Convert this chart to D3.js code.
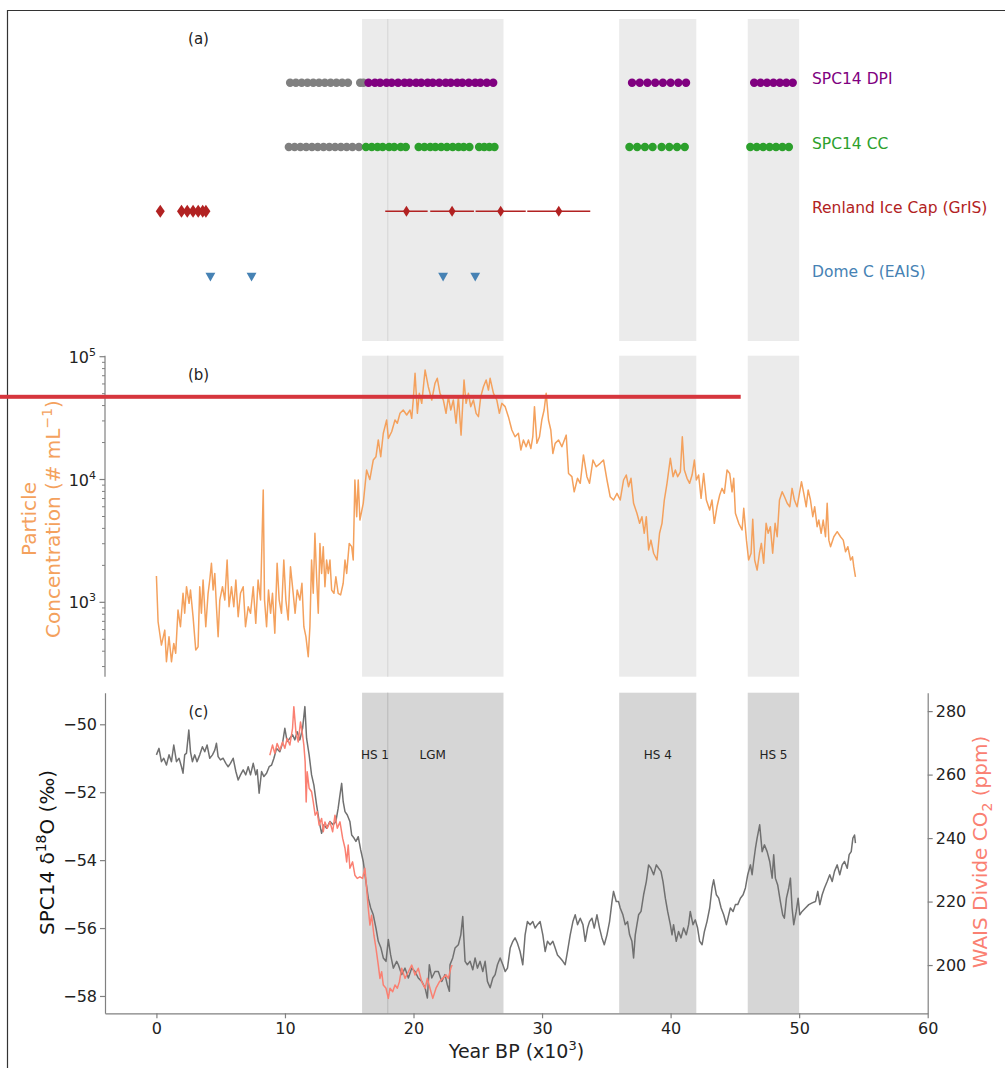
<!DOCTYPE html>
<html><head><meta charset="utf-8">
<script src="https://cdn.jsdelivr.net/npm/d3@7"></script>
<style>body{margin:0;background:#fff;} svg{display:block;font-family:"DejaVu Sans",sans-serif;}</style>
</head><body><svg id="chart" width="1005" height="1068"></svg>
<script>
// ---------------- DATA ----------------
const rowNames = ["SPC14 DPI", "SPC14 CC", "Renland Ice Cap (GrIS)", "Dome C (EAIS)"];
const rowColors = ["#800080", "#2ca02c", "#b22222", "#4682b4"];

const dpiGrayAges = [10.4,10.85,11.3,11.75,12.2,12.65,13.1,13.55,14.0,14.45,14.9,15.85,16.1];
const dpiAges = [16.5,17.0,17.4,17.9,18.3,18.8,19.3,19.7,20.2,20.6,21.1,21.5,22.0,22.5,22.9,23.4,23.8,24.3,24.8,25.2,25.7,26.2,
                 37.0,37.6,38.2,38.8,39.4,40.0,40.6,41.2,
                 46.5,47.0,47.5,48.0,48.5,49.0,49.5];
const ccGrayAges = [10.3,10.75,11.2,11.65,12.1,12.55,13.0,13.45,13.9,14.35,14.8,15.25,15.75];
const ccAges = [16.3,16.75,17.2,17.6,18.1,18.5,19.0,19.4,
                20.4,20.85,21.3,21.7,22.15,22.6,23.05,23.5,23.9,24.35,
                25.1,25.5,25.9,26.3,
                36.8,37.4,38.0,38.6,39.3,39.9,40.5,41.1,
                46.2,46.7,47.2,47.7,48.2,48.7,49.2];
const renlandAges = [0.3,1.95,2.4,2.85,3.25,3.6,3.85];
const renlandErrAges = [19.45,23.0,26.78,31.3];
const renlandErr = [1.65,1.7,1.95,2.45];
const domeCAges = [4.2,7.4,22.3,24.8];

const bandStart = [16,36,46];
const bandEnd = [27,42,50];
const hs1Boundary = 18;
const bandLabels = ["HS 1","LGM","HS 4","HS 5"];
const bandLabelAges = [17,21.5,39,48];

const particleAge = [0.0,0.13,0.39,0.65,0.78,0.98,1.17,1.35,1.5,1.68,1.87,2.07,2.2,2.34,2.54,2.65,2.85,3.06,3.24,3.37,3.5,3.63,3.84,4.02,4.15,4.28,4.41,4.54,4.67,4.8,4.93,5.14,5.32,5.5,5.65,5.84,6.02,6.18,6.36,6.54,6.75,6.93,7.14,7.32,7.53,7.73,7.91,8.1,8.31,8.41,8.57,8.72,8.88,9.03,9.21,9.39,9.55,9.73,9.91,10.07,10.25,10.43,10.64,10.79,10.95,11.16,11.32,11.47,11.63,11.81,11.94,12.07,12.2,12.33,12.46,12.59,12.72,12.85,12.98,13.11,13.24,13.37,13.5,13.63,13.81,13.96,14.14,14.33,14.53,14.67,14.8,15.0,15.19,15.31,15.44,15.58,15.7,15.83,16.09,16.35,16.6,16.87,17.08,17.26,17.45,17.65,17.91,18.04,18.3,18.56,18.74,18.95,19.2,19.47,19.73,19.86,19.98,20.12,20.3,20.45,20.64,20.9,21.15,21.42,21.67,21.85,22.06,22.32,22.53,22.71,22.9,23.1,23.31,23.49,23.7,23.93,24.09,24.27,24.45,24.66,24.87,25.05,25.23,25.44,25.65,25.83,25.96,26.22,26.48,26.68,26.87,27.13,27.38,27.65,27.9,28.16,28.35,28.55,28.76,28.94,29.13,29.28,29.41,29.6,29.8,29.98,30.16,30.32,30.5,30.68,30.84,31.02,31.28,31.54,31.88,32.06,32.32,32.5,32.76,32.97,33.22,33.49,33.69,33.96,34.21,34.52,34.78,35.05,35.3,35.56,35.83,36.08,36.34,36.55,36.73,36.92,37.12,37.38,37.59,37.77,37.95,38.11,38.29,38.47,38.68,38.94,39.14,39.33,39.51,39.72,39.98,40.19,40.37,40.55,40.76,40.91,41.07,41.28,41.48,41.67,41.85,42.0,42.18,42.37,42.57,42.78,43.04,43.22,43.4,43.61,43.82,44.0,44.18,44.39,44.6,44.78,44.91,45.04,45.3,45.56,45.69,45.9,46.07,46.26,46.39,46.54,46.73,46.91,47.06,47.24,47.43,47.59,47.76,47.94,48.13,48.29,48.47,48.68,48.86,49.07,49.27,49.45,49.63,49.84,50.02,50.18,50.36,50.55,50.7,50.88,51.06,51.21,51.4,51.53,51.71,51.87,52.05,52.18,52.31,52.44,52.7,52.96,53.22,53.43,53.61,53.79,54.0,54.15,54.25,54.38];
const particleConc = [1640,695,449,594,328,525,328,463,385,865,633,1184,814,1340,982,1260,764,409,434,1340,814,1520,633,1184,1520,2080,1260,1720,920,525,1044,1340,1044,2210,920,1340,920,1520,764,1184,1340,633,920,814,1340,674,1520,1044,8220,1044,633,1260,814,1184,560,2080,1044,814,2210,1044,718,1950,1184,814,1260,1044,1430,633,525,361,633,2210,1184,3650,1615,814,3020,1720,2840,1340,2210,1720,2210,1260,1184,1615,1184,1150,1430,2210,1720,3020,2840,2210,9910,4980,9910,4680,6400,11940,10000,14420,15350,21000,15350,23800,30500,21600,24500,30500,28700,34600,36800,33500,36800,31500,44400,73300,34600,50300,41700,78000,57000,44400,60700,66700,50300,44400,34600,47200,36800,44400,28700,47200,23000,64600,41700,50300,39200,44400,34600,32500,47200,57000,64600,53500,66700,50300,44400,34600,41700,39200,32500,25300,22300,23800,17400,21000,18500,21000,17900,22300,39200,19700,22300,30500,36800,50300,30500,25300,16300,19700,21000,18500,23000,11200,10550,7940,10230,9310,15850,10550,9310,14420,12700,13550,14420,9910,7240,6810,7720,6810,9910,10880,8730,10230,6400,5310,4400,4980,3650,4980,2670,3210,2510,2210,3650,4400,6810,9310,14900,10550,11940,10550,11560,22300,11940,10230,9310,10880,14420,9910,10880,7030,11200,6810,5650,6810,4400,6000,7480,8470,7720,11940,11200,7940,10230,5310,4400,3880,5830,3210,2210,2510,4740,2210,1830,2510,3020,2080,4400,3650,4130,2510,4400,3420,6810,7940,7240,6400,6000,8470,6810,6000,7720,9590,7720,6000,8220,6810,4980,6000,4130,4680,3650,4680,3420,6400,3210,2840,3420,3760,3420,3210,2580,2840,2210,2350,1950,1615];

const d18OAge = [0.0,0.2,0.39,0.57,0.78,0.98,1.17,1.35,1.56,1.76,1.95,2.07,2.2,2.34,2.52,2.65,2.8,2.98,3.16,3.37,3.58,3.76,3.94,4.15,4.36,4.54,4.67,4.8,4.98,5.19,5.4,5.58,5.76,5.97,6.18,6.36,6.54,6.75,6.95,7.14,7.32,7.53,7.73,7.84,7.99,8.18,8.36,8.57,8.77,8.96,9.14,9.35,9.6,9.81,9.99,10.17,10.38,10.59,10.77,10.95,11.16,11.37,11.55,11.68,11.88,12.07,12.25,12.46,12.66,12.85,13.03,13.24,13.5,13.75,13.96,14.14,14.28,14.41,14.53,14.67,14.85,15.05,15.19,15.37,15.52,15.7,15.89,16.09,16.3,16.48,16.67,16.87,17.08,17.26,17.47,17.65,17.86,18.04,18.22,18.43,18.69,18.82,19.08,19.34,19.6,19.86,20.12,20.37,20.64,20.9,21.08,21.23,21.42,21.67,21.93,22.2,22.45,22.63,22.79,22.84,23.05,23.23,23.49,23.68,23.83,24.01,24.19,24.4,24.61,24.79,24.97,25.18,25.39,25.57,25.75,25.96,26.17,26.35,26.53,26.74,26.95,27.13,27.31,27.52,27.73,27.9,28.08,28.29,28.5,28.68,28.86,29.07,29.28,29.46,29.64,29.85,30.06,30.24,30.42,30.63,30.84,31.02,31.2,31.41,31.62,31.8,31.98,32.19,32.4,32.58,32.76,32.97,33.18,33.36,33.54,33.69,33.88,34.06,34.27,34.47,34.66,34.84,35.05,35.25,35.44,35.56,35.77,35.95,36.08,36.29,36.47,36.65,36.81,36.99,37.12,37.25,37.38,37.51,37.7,37.9,38.11,38.29,38.47,38.68,38.89,39.07,39.25,39.41,39.59,39.77,39.98,40.11,40.23,40.44,40.62,40.81,41.01,41.22,41.4,41.53,41.74,41.92,42.1,42.26,42.45,42.63,42.83,43.04,43.22,43.35,43.56,43.74,43.93,44.13,44.34,44.52,44.65,44.86,45.04,45.22,45.43,45.64,45.82,46.0,46.21,46.34,46.46,46.6,46.73,46.93,47.12,47.3,47.51,47.71,47.9,48.02,48.15,48.33,48.54,48.72,48.85,49.01,49.19,49.32,49.45,49.58,49.77,49.92,50.05,50.23,50.49,50.75,51.01,51.27,51.45,51.61,51.79,51.97,52.18,52.38,52.57,52.75,52.96,53.16,53.35,53.53,53.74,53.89,54.05,54.18,54.31,54.38];
const d18OVal = [-50.90,-50.71,-51.1,-51.0,-51.2,-50.9,-51.1,-50.61,-51.1,-51.0,-51.25,-51.44,-50.9,-50.85,-50.17,-50.81,-51.1,-50.9,-51.1,-50.9,-50.66,-50.81,-50.61,-51.0,-50.9,-50.76,-50.56,-50.95,-51.05,-51.0,-51.15,-51.25,-51.15,-51.0,-51.39,-51.64,-51.49,-51.34,-51.49,-51.25,-51.49,-51.15,-51.49,-51.34,-52.03,-51.39,-51.54,-51.44,-51.25,-51.2,-51.0,-50.71,-50.81,-50.56,-50.12,-50.51,-50.41,-50.31,-50.46,-50.22,-50.46,-50.12,-49.48,-50.41,-50.9,-51.49,-51.79,-52.37,-52.86,-53.21,-52.96,-53.06,-52.86,-52.96,-52.86,-52.47,-52.08,-51.74,-52.28,-52.57,-52.67,-52.86,-53.26,-53.35,-53.45,-53.31,-53.70,-54.04,-54.63,-55.12,-55.41,-55.61,-56.0,-56.39,-56.59,-56.88,-56.98,-56.34,-56.79,-57.18,-56.98,-57.08,-57.37,-57.18,-57.47,-57.18,-57.28,-57.47,-57.57,-57.76,-58.06,-57.08,-57.47,-57.28,-57.28,-57.57,-57.37,-57.67,-57.86,-57.08,-56.88,-56.59,-56.49,-56.2,-55.66,-56.98,-57.08,-56.98,-57.23,-56.88,-57.18,-56.98,-57.28,-56.98,-57.57,-57.76,-57.47,-57.37,-57.08,-56.88,-57.08,-57.28,-57.18,-56.59,-56.39,-56.29,-56.44,-56.69,-57.08,-56.2,-55.81,-55.9,-55.81,-56.0,-55.9,-55.81,-56.2,-56.69,-56.39,-56.49,-56.39,-56.59,-56.79,-56.88,-56.98,-57.08,-56.69,-56.2,-55.81,-55.61,-55.9,-55.71,-55.9,-56.39,-56.0,-55.81,-55.71,-56.0,-55.61,-56.0,-56.29,-56.49,-56.2,-55.81,-55.22,-54.92,-55.22,-55.22,-55.41,-55.61,-55.9,-55.81,-56.2,-56.39,-56.88,-56.2,-55.9,-55.61,-55.51,-55.02,-54.63,-54.14,-54.24,-54.43,-54.14,-54.24,-54.33,-54.63,-55.12,-55.51,-55.9,-56.2,-55.9,-56.39,-56.1,-56.29,-56.0,-56.2,-55.9,-55.51,-55.9,-55.76,-56.0,-56.39,-56.49,-56.1,-55.81,-55.41,-54.82,-54.58,-55.02,-55.12,-55.41,-55.61,-55.9,-55.61,-55.41,-55.51,-55.31,-55.31,-55.12,-55.02,-54.82,-54.43,-54.14,-54.43,-54.04,-53.65,-53.35,-52.96,-53.75,-53.55,-53.75,-54.04,-54.53,-53.84,-54.53,-54.73,-55.22,-55.61,-55.71,-55.12,-54.82,-54.53,-55.41,-55.9,-55.51,-55.12,-55.61,-55.51,-55.41,-55.31,-55.26,-55.22,-54.92,-55.31,-55.02,-54.82,-54.63,-54.43,-54.63,-54.33,-54.14,-54.43,-54.14,-54.04,-54.24,-53.84,-53.75,-53.35,-53.26,-53.5];

const co2Age = [8.82,9.03,9.21,9.39,9.6,9.81,9.99,10.17,10.38,10.59,10.69,10.85,11.03,11.21,11.37,11.47,11.57,11.65,11.73,11.88,12.07,12.2,12.35,12.51,12.66,12.85,12.98,13.11,13.29,13.5,13.71,13.89,14.07,14.28,14.49,14.67,14.8,14.92,15.05,15.26,15.44,15.62,15.83,16.04,16.22,16.35,16.48,16.61,16.74,16.92,17.08,17.26,17.39,17.52,17.65,17.86,18.04,18.17,18.38,18.56,18.74,18.9,19.08,19.34,19.6,19.86,20.12,20.37,20.64,20.9,21.08,21.28,21.5,21.75,22.01,22.27,22.53,22.71,22.9,23.0];
const co2Val = [266.1,269.3,266.7,269.8,267.7,270.3,268.3,271.4,269.3,274.6,281.4,273.5,270.3,276.6,272.4,269.3,264.0,251.4,260.9,255.7,254.6,251.4,247.2,248.3,244.1,246.2,242.0,245.1,243.1,245.1,242.0,247.2,243.1,245.1,239.9,236.8,232.5,237.8,230.5,232.5,228.3,227.3,227.8,227.3,230.5,224.2,217.9,212.6,215.7,209.4,205.3,200.0,195.8,197.9,193.7,192.7,189.5,192.7,191.6,193.7,192.7,194.7,199.0,195.8,197.9,200.0,196.9,199.0,194.7,192.7,195.8,192.7,189.5,192.7,194.7,195.8,196.9,195.8,199.0,200.0];

const xTicks = [0,10,20,30,40,50,60];
const d18OTicks = [-50,-52,-54,-56,-58];
const co2Ticks = [200,220,240,260,280];
const particleMajor = [1e3,1e4,1e5];
const particleMinor = [300,400,500,600,700,800,900,2e3,3e3,4e3,5e3,6e3,7e3,8e3,9e3,2e4,3e4,4e4,5e4,6e4,7e4,8e4,9e4];

// ---------------- DRAW ----------------
const svg = d3.select('#chart');
const x = d3.scaleLinear().domain([-4,60]).range([105,927.7]);
const panels = {a:[19,341], b:[355.7,676.7], c:[692.7,1013.3]};
const bands = bandStart.map((s,i)=>({s, e:bandEnd[i]}));
const spineCol = "#808080", txtCol = "#222";

// bands
function drawBands(p, fill, lineCol){
  const [t,b] = panels[p];
  const g = svg.append('g');
  g.selectAll('rect').data(bands).join('rect')
    .attr('x', d=>x(d.s)).attr('width', d=>x(d.e)-x(d.s))
    .attr('y', t).attr('height', b-t).attr('fill', fill);
  g.append('line').attr('x1', x(hs1Boundary)).attr('x2', x(hs1Boundary))
    .attr('y1', t).attr('y2', b).attr('stroke', lineCol).attr('stroke-width', 1);
}
drawBands('a', '#ebebeb', '#d4d4d4');
drawBands('b', '#ebebeb', '#d4d4d4');
drawBands('c', '#d6d6d6', '#b8b8b8');

// frame lines
svg.append('line').attr('x1',7).attr('x2',1005).attr('y1',10.5).attr('y2',10.5).attr('stroke','#333').attr('stroke-width',1.2);
svg.append('line').attr('x1',7.5).attr('x2',7.5).attr('y1',10).attr('y2',1068).attr('stroke','#333').attr('stroke-width',1.2);

// ---- panel (a)
const yA = d3.scalePoint().domain(rowNames).range([82.7,275.7]);
const ga = svg.append('g');
function dots(ages, row, color){
  ga.append('g').selectAll('circle').data(ages).join('circle')
    .attr('cx', d=>x(d)).attr('cy', yA(row)).attr('r', 4.2).attr('fill', color);
}
dots(dpiGrayAges, rowNames[0], '#808080');
dots(dpiAges, rowNames[0], rowColors[0]);
dots(ccGrayAges, rowNames[1], '#808080');
dots(ccAges, rowNames[1], rowColors[1]);
// renland
const renErr = renlandErrAges.map((a,i)=>({a, e:renlandErr[i]}));
ga.append('g').selectAll('line').data(renErr).join('line')
  .attr('x1', d=>x(d.a-d.e)).attr('x2', d=>x(d.a+d.e))
  .attr('y1', yA(rowNames[2])).attr('y2', yA(rowNames[2]))
  .attr('stroke', rowColors[2]).attr('stroke-width', 1.5);
ga.append('g').selectAll('path').data(renErr).join('path')
  .attr('d', 'M0,-5.5L3.5,0L0,5.5L-3.5,0Z')
  .attr('transform', d=>`translate(${x(d.a)},${yA(rowNames[2])})`).attr('fill', rowColors[2]);
ga.append('g').selectAll('path').data(renlandAges).join('path')
  .attr('d', 'M0,-6.5L4.5,0L0,6.5L-4.5,0Z')
  .attr('transform', d=>`translate(${x(d)},${yA(rowNames[2])})`).attr('fill', rowColors[2]);
// dome C
ga.append('g').selectAll('path').data(domeCAges).join('path')
  .attr('d', d3.symbol(d3.symbolTriangle, 42))
  .attr('transform', d=>`translate(${x(d)},${yA(rowNames[3])}) rotate(180)`).attr('fill', rowColors[3]);
// row labels
ga.append('g').selectAll('text').data(rowNames).join('text')
  .attr('x', 812).attr('y', d=>yA(d)+1.5).attr('font-size', 15.5)
  .attr('fill', (d,i)=>rowColors[i]).text(d=>d);

// panel letters
[['(a)',38.5],['(b)',374.5],['(c)',712]].forEach(([t,yy])=>{
  svg.append('text').attr('x',198.5).attr('y',yy).attr('dy','0.35em').attr('text-anchor','middle')
    .attr('font-size',15).attr('fill',txtCol).text(t);
});

// ---- panel (b)
const yB = d3.scaleLog().domain([248,101900]).range([676.7,355.7]);
const orange = '#f4a15d';
svg.append('path').datum(particleAge.map((a,i)=>[a,particleConc[i]]))
  .attr('d', d3.line().x(d=>x(d[0])).y(d=>yB(d[1])))
  .attr('fill','none').attr('stroke',orange).attr('stroke-width',1.5).attr('stroke-linejoin','round');
const gb = svg.append('g');
gb.append('line').attr('x1',105).attr('x2',105).attr('y1',355.7).attr('y2',676.7).attr('stroke',spineCol).attr('stroke-width',1.2);
gb.selectAll('line.mn').data(particleMinor).join('line').attr('class','mn')
  .attr('x1',105).attr('x2',102).attr('y1',d=>yB(d)).attr('y2',d=>yB(d)).attr('stroke',spineCol);
gb.selectAll('line.mj').data(particleMajor).join('line').attr('class','mj')
  .attr('x1',105).attr('x2',99.5).attr('y1',d=>yB(d)).attr('y2',d=>yB(d)).attr('stroke',spineCol).attr('stroke-width',1.2);
const lt = gb.selectAll('text.mj').data(particleMajor).join('text').attr('class','mj')
  .attr('x',96).attr('y',d=>yB(d)+6).attr('text-anchor','end').attr('font-size',16).attr('fill',txtCol);
lt.append('tspan').text('10');
lt.append('tspan').attr('dy',-7).attr('font-size',11).text(d=>Math.round(Math.log10(d)));
// y label (b)
const pl = svg.append('g').attr('fill','#f4a15d').attr('font-size',20).attr('text-anchor','middle');
pl.append('text').attr('transform','translate(36,519) rotate(-90)').text('Particle');
const pl2 = pl.append('text').attr('transform','translate(60,519) rotate(-90)');
pl2.append('tspan').text('Concentration (# mL');
pl2.append('tspan').attr('dy',-8).attr('font-size',14).text('\u22121');
pl2.append('tspan').attr('dy',8).text(')');

// ---- panel (c)
const yC = d3.scaleLinear().domain([-58.51,-49.07]).range([1013.3,692.7]);
const yCO2 = d3.scaleLinear().domain([184.8,285.8]).range([1013.3,692.7]);
const gcl = svg.append('g');
gcl.selectAll('text').data(bandLabels).join('text')
  .attr('x',(d,i)=>x(bandLabelAges[i])).attr('y',754.5).attr('dy','0.35em').attr('text-anchor','middle')
  .attr('font-size',12).attr('fill','#222').text(d=>d);
svg.append('path').datum(d18OAge.map((a,i)=>[a,d18OVal[i]]))
  .attr('d', d3.line().x(d=>x(d[0])).y(d=>yC(d[1])))
  .attr('fill','none').attr('stroke','#707070').attr('stroke-width',1.5).attr('stroke-linejoin','round');
svg.append('path').datum(co2Age.map((a,i)=>[a,co2Val[i]]))
  .attr('d', d3.line().x(d=>x(d[0])).y(d=>yCO2(d[1])))
  .attr('fill','none').attr('stroke','#fa8072').attr('stroke-width',1.5).attr('stroke-linejoin','round');

function styleAxis(g){
  g.selectAll('.domain').attr('stroke',spineCol).attr('stroke-width',1.2);
  g.selectAll('.tick line').attr('stroke',spineCol).attr('stroke-width',1.2);
  g.selectAll('.tick text').attr('font-size',16).attr('fill',txtCol).attr('font-family','DejaVu Sans, sans-serif');
}
svg.append('g').attr('transform','translate(105,0)')
  .call(d3.axisLeft(yC).tickValues(d18OTicks).tickSize(5).tickPadding(3).tickSizeOuter(0)).call(styleAxis);
svg.append('g').attr('transform','translate(927.7,0)')
  .call(d3.axisRight(yCO2).tickValues(co2Ticks).tickSize(5).tickPadding(3).tickSizeOuter(0)).call(styleAxis);
svg.append('g').attr('transform','translate(0,1013.3)')
  .call(d3.axisBottom(x).tickValues(xTicks).tickSize(5).tickPadding(4).tickSizeOuter(0)).call(styleAxis);

// axis labels
const xl = svg.append('text').attr('x',516.5).attr('y',1058).attr('text-anchor','middle').attr('font-size',19).attr('fill',txtCol);
xl.append('tspan').text('Year BP (x10');
xl.append('tspan').attr('dy',-8).attr('font-size',13).text('3');
xl.append('tspan').attr('dy',8).text(')');

const yl = svg.append('text').attr('transform','translate(46.7,852.5) rotate(-90)').attr('dy','0.35em')
  .attr('text-anchor','middle').attr('font-size',20).attr('fill','#111');
yl.append('tspan').text('SPC14 \u03b4');
yl.append('tspan').attr('dy',-8).attr('font-size',14).text('18');
yl.append('tspan').attr('dy',8).text('O (\u2030)');

const yr = svg.append('text').attr('transform','translate(980,852) rotate(-90)').attr('dy','0.35em')
  .attr('text-anchor','middle').attr('font-size',20).attr('fill','#fa8072');
yr.append('tspan').text('WAIS Divide CO');
yr.append('tspan').attr('dy',5).attr('font-size',14).text('2');
yr.append('tspan').attr('dy',-5).text(' (ppm)');

// red annotation line
svg.append('rect').attr('x',0).attr('y',394.8).attr('width',740.7).attr('height',4).attr('fill','#d6363d');
</script></body></html>
